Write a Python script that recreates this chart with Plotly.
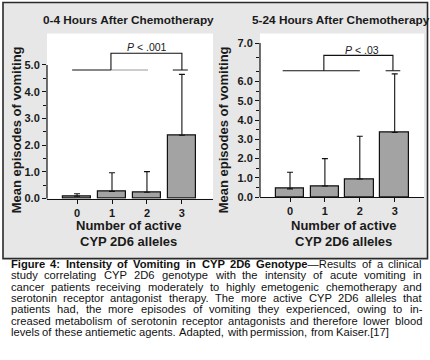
import plotly.graph_objects as go

# ---------------- data ----------------
categories = [0, 1, 2, 3]
cat_labels = ["0", "1", "2", "3"]

early_means = [0.09, 0.27, 0.24, 2.37]      # 0-4 h
early_err = [0.09, 0.70, 0.77, 2.28]        # upper SD
late_means = [0.43, 0.58, 0.94, 3.36]       # 5-24 h
late_err = [0.86, 1.42, 2.22, 3.04]

early_ticks = [0.0, 1.0, 2.0, 3.0, 4.0, 5.0]
early_ticktext = ["0.0", "1.0", "2.0", "3.0", "4.0", "5.0"]
# the printed panel places its "7.0" label where the linear scale reads 8
late_ticks = [0.0, 1.0, 2.0, 3.0, 4.0, 5.0, 6.0, 8.0]
late_ticktext = ["0.0", "1.0", "2.0", "3.0", "4.0", "5.0", "6.0", "7.0"]

titles = ["0-4 Hours After Chemotherapy", "5-24 Hours After Chemotherapy"]
p_texts = ["<i>P</i> < .001", "<i>P</i> < .03"]
y_title = "Mean episodes of vomiting"
x_title_lines = ["Number of active", "CYP 2D6 alleles"]

# caption: list of lines, each a list of (text, bold) runs
caption_lines = [
    [("Figure 4: Intensity of Vomiting in CYP 2D6 Genotype", True), ("\u2014Results of a clinical", False)],
    [("study correlating CYP 2D6 genotype with the intensity of acute vomiting in", False)],
    [("cancer patients receiving moderately to highly emetogenic chemotherapy and", False)],
    [("serotonin receptor antagonist therapy. The more active CYP 2D6 alleles that", False)],
    [("patients had, the more episodes of vomiting they experienced, owing to in-", False)],
    [("creased metabolism of serotonin receptor antagonists and therefore lower blood", False)],
    [("levels of these antiemetic agents. Adapted, with permission, from Kaiser.[17]", False)],
]

# ---------------- helpers ----------------
W, H = 430, 360
FONT = "Liberation Sans, Arial, sans-serif"
BAR = "#a3a3a3"
PANEL = "#e7e7e7"
INK = "#1a1a1a"

REG = {' ': 278, '!': 278, '"': 355, '#': 556, '$': 556, '%': 889, '&': 667, "'": 191, '(': 333, ')': 333,
       '*': 389, '+': 584, ',': 278, '-': 333, '.': 278, '/': 278, ':': 278, ';': 278, '<': 584, '=': 584,
       '>': 584, '?': 556, '@': 1015, 'A': 667, 'B': 667, 'C': 722, 'D': 722, 'E': 667, 'F': 611, 'G': 778,
       'H': 722, 'I': 278, 'J': 500, 'K': 667, 'L': 556, 'M': 833, 'N': 722, 'O': 778, 'P': 667, 'Q': 778,
       'R': 722, 'S': 667, 'T': 611, 'U': 722, 'V': 667, 'W': 944, 'X': 667, 'Y': 667, 'Z': 611, '[': 278,
       ']': 278, 'a': 556, 'b': 556, 'c': 500, 'd': 556, 'e': 556, 'f': 278, 'g': 556, 'h': 556, 'i': 222,
       'j': 222, 'k': 500, 'l': 222, 'm': 833, 'n': 556, 'o': 556, 'p': 556, 'q': 556, 'r': 333, 's': 500,
       't': 278, 'u': 556, 'v': 500, 'w': 722, 'x': 500, 'y': 500, 'z': 500, '\u2014': 1000}
BOLD = dict(REG)
BOLD.update({'!': 333, ':': 333, ';': 333, 'A': 722, 'B': 722, 'J': 556, 'K': 722, 'L': 611, 'a': 556,
             'b': 611, 'c': 556, 'd': 611, 'e': 556, 'f': 333, 'g': 611, 'h': 611, 'i': 278, 'j': 278,
             'k': 556, 'l': 278, 'm': 889, 'n': 611, 'o': 611, 'p': 611, 'q': 611, 'r': 389, 's': 556,
             't': 333, 'u': 611, 'v': 556, 'w': 778, 'x': 556, 'y': 556})
for d in "0123456789":
    REG[d] = 556
    BOLD[d] = 556


def text_w(s, bold, size):
    table = BOLD if bold else REG
    return sum(table.get(ch, 556) for ch in s) * size / 1000.0


def px_x(p):
    return p / W


def px_y(p):
    return 1 - p / H


fig = go.Figure()

for means, errs, xa, ya in [(early_means, early_err, "x", "y"), (late_means, late_err, "x2", "y2")]:
    fig.add_trace(go.Bar(
        x=categories, y=means, width=0.82,
        marker=dict(color=BAR, line=dict(color="#111", width=1.2)),
        error_y=dict(type="data", array=errs, arrayminus=[0] * 4, symmetric=False,
                     color="#111", thickness=1.1, width=3),
        xaxis=xa, yaxis=ya, showlegend=False, hoverinfo="skip"))

tickfont = dict(family=FONT, size=11, color=INK, weight="bold")
common_x = dict(tickmode="array", tickvals=categories, ticktext=cat_labels,
                ticks="outside", ticklen=4, tickwidth=1, tickcolor="#111",
                showline=True, linecolor="#111", linewidth=1.2,
                showgrid=False, zeroline=False, tickfont=tickfont, fixedrange=True)
common_y = dict(tickmode="array", ticks="outside", ticklen=4, tickwidth=1, tickcolor="#111",
                showline=False, showgrid=False, zeroline=False, tickfont=tickfont, fixedrange=True)

fig.update_layout(
    width=W, height=H,
    margin=dict(l=0, r=0, t=0, b=0),
    paper_bgcolor="white", plot_bgcolor="white",
    bargap=0,
    font=dict(family=FONT, color=INK),
    xaxis=dict(domain=[px_x(47), px_x(213)], range=[-0.86, 3.89], anchor="y", **common_x),
    yaxis=dict(domain=[px_y(202), px_y(34)], range=[0, 6.18], anchor="x",
               tickvals=early_ticks, ticktext=early_ticktext,
               minor=dict(tickvals=[0.5, 1.5, 2.5, 3.5, 4.5], ticks="outside",
                          ticklen=3, tickwidth=1, tickcolor="#111"), **common_y),
    xaxis2=dict(domain=[px_x(260), px_x(424)], range=[-0.86, 3.84], anchor="y2", **common_x),
    yaxis2=dict(domain=[px_y(200.5), px_y(34)], range=[0, 8.5], anchor="x2",
                tickvals=late_ticks, ticktext=late_ticktext,
                minor=dict(tickvals=[0.5, 1.5, 2.5, 3.5, 4.5, 5.5, 6.5, 7.25], ticks="outside",
                           ticklen=3, tickwidth=1, tickcolor="#111"), **common_y),
)

shapes = []
shapes.append(dict(type="rect", xref="paper", yref="paper", layer="below",
                   x0=px_x(3), x1=px_x(427.5), y0=px_y(263), y1=px_y(2.5),
                   fillcolor=PANEL, line=dict(color="#2a2a2a", width=1.6)))
shapes.append(dict(type="rect", xref="paper", yref="paper", layer="below",
                   x0=px_x(47), x1=px_x(213), y0=px_y(202), y1=px_y(34),
                   fillcolor="white", line=dict(width=0)))
shapes.append(dict(type="rect", xref="paper", yref="paper", layer="below",
                   x0=px_x(260), x1=px_x(424), y0=px_y(200.5), y1=px_y(34),
                   fillcolor="white", line=dict(width=0)))
shapes.append(dict(type="line", xref="x domain", yref="y", x0=0, x1=0, y0=0, y1=5.0,
                   line=dict(color="#111", width=1.2)))
shapes.append(dict(type="line", xref="x2 domain", yref="y2", x0=0, x1=0, y0=0, y1=8.0,
                   line=dict(color="#111", width=1.2)))


def bracket(xr, yr, left0, left1, mid_x, low, high, right_x, short0, short1, grey_from=None):
    lc = dict(color="#111", width=1.1)
    if grey_from is None:
        shapes.append(dict(type="line", xref=xr, yref=yr, x0=left0, x1=left1, y0=low, y1=low, line=lc))
    else:
        shapes.append(dict(type="line", xref=xr, yref=yr, x0=left0, x1=grey_from, y0=low, y1=low, line=lc))
        shapes.append(dict(type="line", xref=xr, yref=yr, x0=grey_from, x1=left1, y0=low, y1=low,
                           line=dict(color="#9a9a9a", width=1.1)))
    shapes.append(dict(type="path", xref=xr, yref=yr,
                       path=f"M {mid_x},{low} L {mid_x},{high} L {right_x},{high} L {right_x},{low}",
                       line=lc))
    shapes.append(dict(type="line", xref=xr, yref=yr, x0=short0, x1=short1, y0=low, y1=low, line=lc))


bracket("x", "y", -0.14, 2.03, 0.97, 4.81, 5.44, 3.0, 2.74, 3.17, grey_from=0.97)
bracket("x2", "y2", -0.21, 2.0, 0.97, 6.56, 7.36, 2.95, 2.74, 3.16)

annotations = []
annotations.append(dict(xref="x", yref="y", x=2.0, y=5.67, text=p_texts[0], showarrow=False,
                        xanchor="center", yanchor="middle",
                        font=dict(family=FONT, size=10.5, color=INK)))
annotations.append(dict(xref="x2", yref="y2", x=2.05, y=7.65, text=p_texts[1], showarrow=False,
                        xanchor="center", yanchor="middle",
                        font=dict(family=FONT, size=10.5, color=INK)))
for cx, t in zip([128, 341], titles):
    annotations.append(dict(xref="paper", yref="paper", x=px_x(cx), y=px_y(20.5), text=t,
                            xanchor="center", yanchor="middle", showarrow=False,
                            font=dict(family=FONT, size=11.8, color=INK, weight="bold")))
for cx in [16.5, 223.5]:
    annotations.append(dict(xref="paper", yref="paper", x=px_x(cx), y=px_y(132), text=y_title,
                            xanchor="center", yanchor="middle", textangle=-90, showarrow=False,
                            font=dict(family=FONT, size=13, color=INK, weight="bold")))
for cx in [128.5, 343]:
    for j, line in enumerate(x_title_lines):
        annotations.append(dict(xref="paper", yref="paper", x=px_x(cx), y=px_y(229 + j * 16.5), text=line,
                                xanchor="center", yanchor="middle", showarrow=False, borderpad=0,
                                font=dict(family=FONT, size=13, color=INK, weight="bold")))

# caption: justified by placing each word at a computed x position
CAP_SIZE = 11.2
CAP_L, CAP_R = 9.5, 421.0
for i, runs in enumerate(caption_lines):
    words = []   # (html, width)
    cur_html, cur_w = "", 0.0
    for text, bold in runs:
        parts = text.split(" ")
        for k, part in enumerate(parts):
            if k > 0 and (cur_html or cur_w):
                words.append((cur_html, cur_w))
                cur_html, cur_w = "", 0.0
            if part:
                cur_html += f"<b>{part}</b>" if bold else part
                cur_w += text_w(part, bold, CAP_SIZE)
    if cur_html:
        words.append((cur_html, cur_w))
    total = sum(w for _, w in words)
    last = i == len(caption_lines) - 1
    space = text_w(" ", False, CAP_SIZE)
    gap = space if last else max(1.0, (CAP_R - CAP_L - total) / (len(words) - 1))
    x = CAP_L
    for html, w in words:
        annotations.append(dict(xref="paper", yref="paper", x=px_x(x), y=px_y(268.5 + i * 11.5),
                                xanchor="left", yanchor="middle", text=html, showarrow=False,
                                borderpad=0, font=dict(family=FONT, size=CAP_SIZE, color="#111")))
        x += w + gap

fig.update_layout(shapes=shapes, annotations=annotations)

fig.write_html("out.html", config={"displayModeBar": False},
               post_script="document.body.style.margin='0';")
